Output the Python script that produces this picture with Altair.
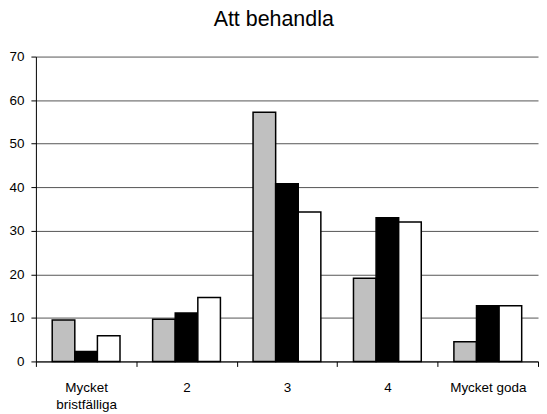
import altair as alt
import pandas as pd

categories = ["Mycket bristfälliga", "2", "3", "4", "Mycket goda"]
series = ["Serie 1", "Serie 2", "Serie 3"]
serie1 = [9.5, 9.7, 57.2, 19.1, 4.5]
serie2 = [2.3, 11.1, 40.8, 33.0, 12.8]
serie3 = [5.9, 14.7, 34.3, 32.0, 12.8]
colors = ["#c0c0c0", "#000000", "#ffffff"]
y_ticks = [0, 10, 20, 30, 40, 50, 60, 70]

rows = []
for s, vals in zip(series, [serie1, serie2, serie3]):
    for c, v in zip(categories, vals):
        rows.append({"kategori": c, "serie": s, "varde": v})
df = pd.DataFrame(rows)

FONT = "Liberation Sans"

chart = alt.Chart(df).mark_bar(stroke="black", strokeWidth=1.5).encode(
    x=alt.X(
        "kategori:N",
        sort=categories,
        scale=alt.Scale(paddingInner=0, paddingOuter=0),
        axis=alt.Axis(
            title=None,
            labelAngle=0,
            tickBand="extent",
            labelExpr="datum.label == 'Mycket bristfälliga' ? ['Mycket', 'bristfälliga'] : datum.label",
            labelFont=FONT,
            labelFontSize=13.5,
            labelColor="black",
            labelLineHeight=17,
            labelPadding=14,
            tickSize=5,
            tickColor="black",
            domainColor="black",
            grid=False,
        ),
    ),
    xOffset=alt.XOffset(
        "serie:N", sort=series, scale=alt.Scale(paddingInner=0, paddingOuter=0.722)
    ),
    y=alt.Y(
        "varde:Q",
        scale=alt.Scale(domain=[0, 70], nice=False),
        axis=alt.Axis(
            title=None,
            values=y_ticks,
            grid=True,
            gridColor="#555555",
            gridWidth=1,
            labelFont=FONT,
            labelFontSize=13.5,
            labelColor="black",
            labelPadding=7,
            tickSize=5,
            tickColor="black",
            domainColor="black",
        ),
    ),
    color=alt.Color(
        "serie:N", sort=series, scale=alt.Scale(domain=series, range=colors), legend=None
    ),
).properties(
    width=504,
    height=306,
    padding=0,
    background="white",
    title=alt.TitleParams(
        "Att behandla", font=FONT, fontSize=21.5, fontWeight="normal", color="black",
        anchor="middle", frame="bounds", offset=19,
    ),
).configure_view(strokeWidth=0)

chart.save("out.html", embed_options={"renderer": "svg", "actions": False})
